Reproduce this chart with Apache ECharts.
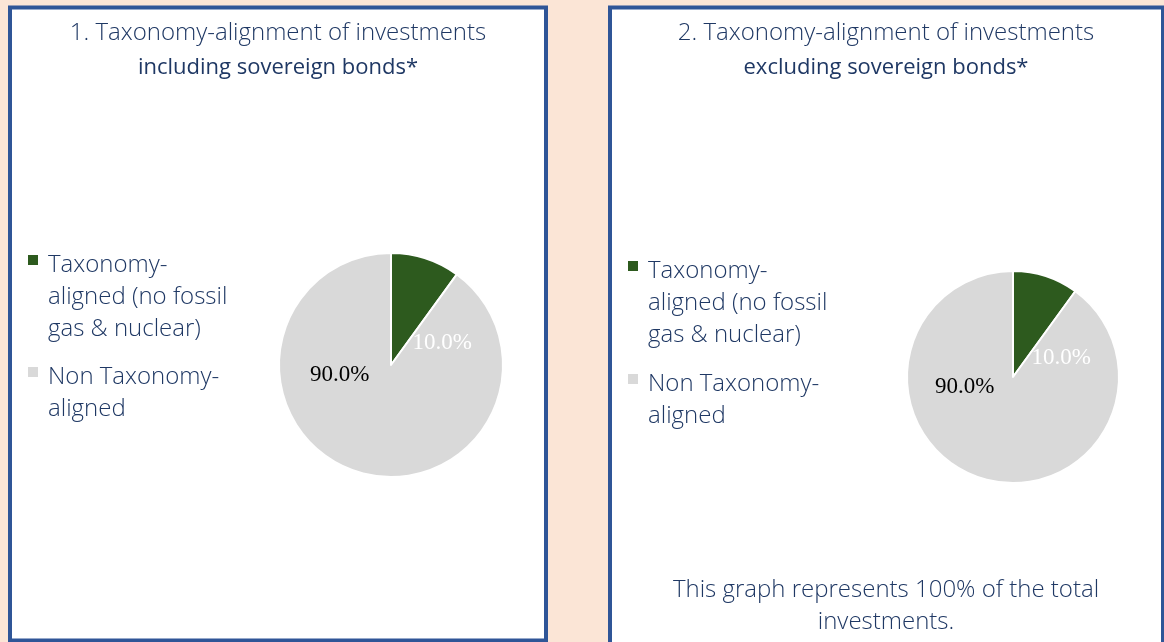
<!DOCTYPE html>
<html>
<head>
<meta charset="utf-8">
<script src="https://cdn.jsdelivr.net/npm/echarts@6/dist/echarts.min.js"></script>
<style>
  html, body { margin: 0; padding: 0; background: #FBE5D6; }
  #chart { width: 1164px; height: 642px; }
</style>
</head>
<body>
<div id="chart"></div>
<script>
// categories and values
var categories = ['Taxonomy-aligned (no fossil gas & nuclear)', 'Non Taxonomy-aligned'];
var legendLines = [
  ['Taxonomy-', 'aligned (no fossil', 'gas & nuclear)'],
  ['Non Taxonomy-', 'aligned']
];
var inclSovereign = [10.0, 90.0];
var exclSovereign = [10.0, 90.0];
var sliceColors = ['#2D5A1E', '#D9D9D9'];
var labelColors = ['#ffffff', '#000000'];

var navy = '#1F3864';
var border = '#2F5597';
var sans = '"Open Sans", sans-serif';

function pieData(values) {
  return values.map(function (v, i) {
    return {
      name: categories[i],
      value: v,
      itemStyle: { color: sliceColors[i] },
      label: { color: labelColors[i] }
    };
  });
}

// legend text is centred on the icon, so a spacer line on top pushes the
// first text line level with the square, as in the original
function legendFor(left, top, gap) {
  var txt = { fontFamily: sans, fontSize: 24, fontWeight: 300, lineHeight: 32, color: navy, padding: [0, 0, 0, 4] };
  return {
    orient: 'vertical',
    left: left,
    top: top,
    padding: 0,
    itemWidth: 12,
    itemHeight: 12,
    itemGap: gap,
    icon: 'rect',
    selectedMode: false,
    data: categories,
    formatter: function (name) {
      var i = categories.indexOf(name);
      var sp = i === 0 ? 's0' : 's1';
      return '{' + sp + '| }\n' + legendLines[i].map(function (l) {
        return '{t|' + l + '}';
      }).join('\n');
    },
    textStyle: {
      rich: {
        s0: { fontSize: 2, lineHeight: 74 },
        s1: { fontSize: 2, lineHeight: 42 },
        t: txt
      }
    }
  };
}

function pieSeries(values, center, radius, offsets) {
  return {
    type: 'pie',
    center: center,
    radius: radius,
    startAngle: 90,
    clockwise: true,
    silent: true,
    data: pieData(values),
    itemStyle: { borderColor: '#ffffff', borderWidth: 2 },
    label: {
      show: true,
      position: 'inside',
      fontFamily: '"Liberation Serif", serif',
      fontSize: 23,
      formatter: function (p) { return p.value.toFixed(1) + '%'; }
    },
    labelLine: { show: false },
    labelLayout: function (p) {
      return { dx: offsets[p.dataIndex][0], dy: offsets[p.dataIndex][1] };
    }
  };
}

function titleLine(text, x, y, size, weight, lh) {
  return {
    text: text,
    left: x, top: y, textAlign: 'center', padding: 0,
    textStyle: { fontFamily: sans, fontSize: size, fontWeight: weight, lineHeight: lh, color: navy, align: 'center' }
  };
}

var chart = echarts.init(document.getElementById('chart'));
chart.setOption({
  animation: false,
  backgroundColor: '#FBE5D6',
  graphic: [
    {
      type: 'rect', z: 0,
      shape: { x: 10, y: 7.5, width: 536, height: 633 },
      style: { fill: '#ffffff', stroke: border, lineWidth: 4 }
    },
    {
      type: 'rect', z: 0,
      shape: { x: 610, y: 7.5, width: 553, height: 700 },
      style: { fill: '#ffffff', stroke: border, lineWidth: 4 }
    }
  ],
  title: [
    titleLine('1. Taxonomy-alignment of investments', 278, 18, 24, 300, 30),
    titleLine('including sovereign bonds*', 278, 53, 22, 500, 30),
    titleLine('2. Taxonomy-alignment of investments', 886, 18, 24, 300, 30),
    titleLine('excluding sovereign bonds*', 886, 53, 22, 500, 30),
    titleLine('This graph represents 100% of the total\ninvestments.', 886, 574, 24, 300, 32)
  ],
  legend: [
    legendFor(26, 211, -2),
    legendFor(626, 217, -1)
  ],
  series: [
    pieSeries(inclSovereign, [391, 365], 112, [[33, 34], [-33, -46]]),
    pieSeries(exclSovereign, [1013, 377], 106, [[31, 34], [-31, -43]])
  ]
});
</script>
</body>
</html>
